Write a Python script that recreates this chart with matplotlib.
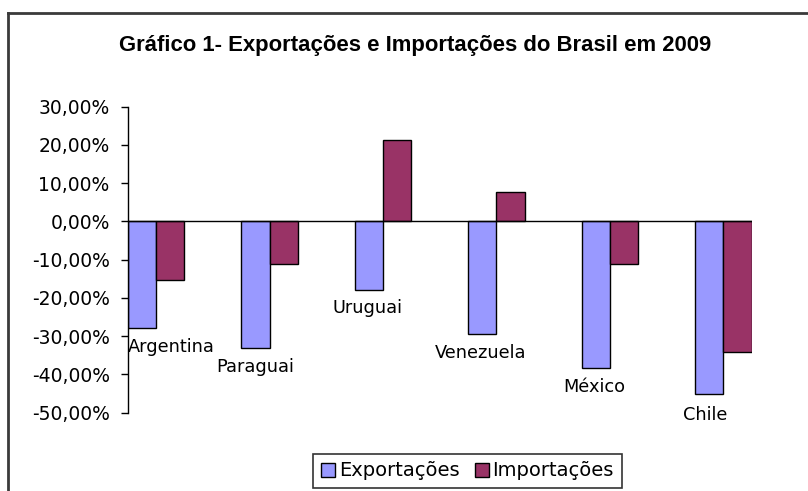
import matplotlib
matplotlib.use("Agg")
import matplotlib.pyplot as plt
import numpy as np
from matplotlib.lines import Line2D
from matplotlib.ticker import FuncFormatter, MultipleLocator

# ---- data ----
categories = ["Argentina", "Paraguai", "Uruguai", "Venezuela", "México", "Chile"]
exportacoes = [-27.9, -33.0, -17.9, -29.4, -38.3, -45.1]
importacoes = [-15.2, -11.1, 21.4, 7.8, -11.1, -34.2]
series_names = ["Exportações", "Importações"]
title = "Gráfico 1- Exportações e Importações do Brasil em 2009"

# ---- layout (label placement as in the original Excel picture) ----
label_dx = [0.13, -0.13, -0.14, -0.14, -0.14, -0.16]
label_y = [-32.9, -38.1, -22.7, -34.5, -43.3, -50.7]

col_exp = "#9999FF"
col_imp = "#993366"

W, H = 808, 491
fig = plt.figure(figsize=(W / 100, H / 100), dpi=100)
fig.patch.set_facecolor("white")

# outer chart frame (partially cropped in the original)
fig.add_artist(Line2D([8 / W, 1.0], [1 - 13 / H, 1 - 13 / H], color="#3a3a3a", lw=2.0,
                      transform=fig.transFigure))
fig.add_artist(Line2D([8 / W, 8 / W], [0.0, 1 - 13 / H], color="#3a3a3a", lw=2.0,
                      transform=fig.transFigure))

left, right = 127.7 / W, 751.7 / W
bottom, top = (H - 412.7) / H, (H - 106.7) / H
ax = fig.add_axes([left, bottom, right - left, top - bottom])

x = np.arange(len(categories))
w = 0.25
ax.bar(x - w / 2, exportacoes, width=w, color=col_exp, edgecolor="black", linewidth=1.0,
       label=series_names[0], zorder=2)
ax.bar(x + w / 2, importacoes, width=w, color=col_imp, edgecolor="black", linewidth=1.0,
       label=series_names[1], zorder=2)

ax.set_xlim(-0.25, len(categories) - 1 + 0.25)
ax.set_ylim(-50, 30)
ax.axhline(0, color="black", lw=1.0, zorder=3)

for s in ["top", "right", "bottom"]:
    ax.spines[s].set_visible(False)
ax.spines["left"].set_color("black")
ax.spines["left"].set_linewidth(1.0)
ax.set_xticks([])
ax.yaxis.set_major_locator(MultipleLocator(10))
ax.yaxis.set_major_formatter(FuncFormatter(lambda v, p: f"{v:.2f}%".replace(".", ",")))
ax.tick_params(axis="y", direction="out", length=5, width=1.0, pad=8,
               labelsize=13.5, labelcolor="black")
for t in ax.get_yticklabels():
    t.set_family("DejaVu Sans")

for i, name in enumerate(categories):
    ax.text(x[i] + label_dx[i], label_y[i], name, ha="center", va="center",
            fontsize=12.8, family="DejaVu Sans", color="black", clip_on=False)

fig.text(415 / W, 1 - 45 / H, title, ha="center", va="center", fontsize=15.9,
         fontweight="bold", family=["Liberation Sans Narrow", "Liberation Sans"])

leg = fig.legend(loc="center", bbox_to_anchor=(467.5 / W, 1 - 471 / H),
                 ncol=2, frameon=True, fancybox=False, edgecolor="black",
                 prop={"family": "DejaVu Sans", "size": 14},
                 handlelength=0.7, handleheight=0.7, handletextpad=0.2,
                 columnspacing=0.8, borderpad=0.4, borderaxespad=0)
leg.get_frame().set_linewidth(1.2)

fig.savefig("out.png", dpi=100, facecolor="white")
